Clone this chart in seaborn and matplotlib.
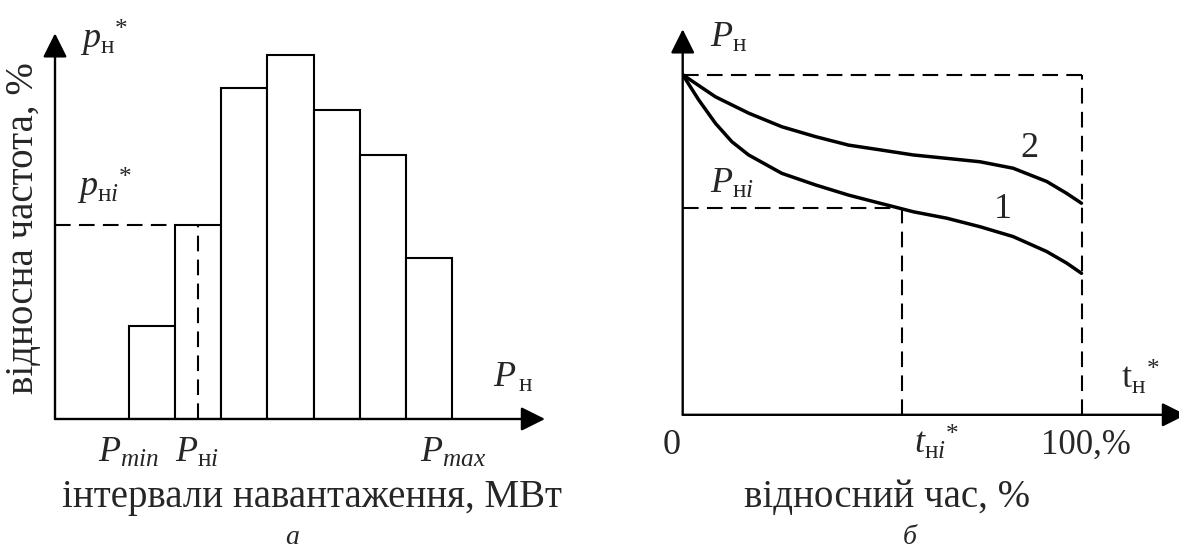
import numpy as np
import pandas as pd
import matplotlib
matplotlib.use("Agg")
import matplotlib.pyplot as plt
import seaborn as sns

# --- data ---
# (a) relative frequency of load intervals, %
intervals = ["1", "2", "3", "4", "5", "6", "7"]
freq = [5.4, 11.3, 19.3, 21.2, 18.0, 15.4, 9.4]
i_hi = 1  # interval marked as P_нi

# (б) load duration curves, relative time % vs relative load %
t_curve1 = [0, 4.0, 8.2, 12.3, 16.5, 24.8, 33.2, 41.5, 49.4, 51.1, 57.7, 66.1, 74.4, 82.7, 91.1, 96.1, 99.8]
p_curve1 = [100, 92.6, 85.7, 80.3, 76.4, 71.0, 67.6, 64.6, 62.2, 61.7, 59.7, 57.8, 55.3, 52.4, 48.0, 44.6, 41.6]
t_curve2 = [0, 8.2, 16.5, 24.8, 33.2, 41.5, 49.4, 57.7, 66.1, 74.4, 82.7, 91.1, 96.1, 99.8]
p_curve2 = [100, 93.5, 88.7, 84.7, 81.8, 79.3, 77.9, 76.4, 75.4, 74.4, 72.5, 68.6, 65.1, 62.2]
t_hi = 55.0
p_hi = 60.7

W, H = 1179, 548
sns.set_style("white")
plt.rcParams["font.family"] = ["Liberation Serif", "DejaVu Serif"]
plt.rcParams["mathtext.fontset"] = "custom"
plt.rcParams["mathtext.rm"] = "Liberation Serif"
plt.rcParams["mathtext.it"] = "Liberation Serif:italic"

fig = plt.figure(figsize=(W / 100, H / 100), dpi=100)
fig.patch.set_facecolor("white")


def box(x0, y0, x1, y1):
    # pixel box (left, top, right, bottom) -> figure fraction rect
    return [x0 / W, 1 - y1 / H, (x1 - x0) / W, (y1 - y0) / H]


def label(x, y, s, size=26, **kw):
    fig.text(x / W, 1 - y / H, s, fontsize=size, va="baseline", **kw)


dash = (0, (7.5, 4))
AX_LW = 1.7


def arrows(ax):
    for sp in ax.spines.values():
        sp.set_visible(False)
    ax.set_xticks([])
    ax.set_yticks([])
    ax.set_xlabel("")
    ax.set_ylabel("")
    ap = dict(arrowstyle="-|>,head_length=0.7,head_width=0.35", mutation_scale=21,
              lw=AX_LW, color="black", shrinkA=0, shrinkB=0)
    ax.annotate("", xy=(0, 1), xytext=(0, 0), xycoords="axes fraction", arrowprops=ap,
                annotation_clip=False)
    ax.annotate("", xy=(1, 0), xytext=(0, 0), xycoords="axes fraction", arrowprops=ap,
                annotation_clip=False)


# ---------- panel (a) ----------
ax1 = fig.add_axes(box(55, 33.3, 545, 419))
df_a = pd.DataFrame({"interval": intervals, "freq": freq})
sns.barplot(data=df_a, x="interval", y="freq", width=1, color="white",
            edgecolor="black", linewidth=1.5, saturation=1, ax=ax1)
ax1.set_xlim(-2.103, 8.514)
ax1.set_ylim(0, 22.49)
ax1.hlines(freq[i_hi], -2.103, i_hi - 0.5, colors="black", linestyles=dash, lw=1.5)
ax1.vlines(i_hi, 0, freq[i_hi], colors="black", linestyles=dash, lw=1.5)
arrows(ax1)

label(80, 49, r"$p_{\mathrm{н}}{}^{*}$")
label(77, 196.7, r"$p_{\mathrm{н}i}{}^{*}$")
label(493, 387.3, r"$P_{\,\mathrm{н}}$")
label(98, 462.3, r"$P_{min}$")
label(175, 462.3, r"$P_{\mathrm{н}i}$")
label(420, 462.3, r"$P_{max}$")
label(312, 507.3, "інтервали навантаження, МВт", 28, ha="center")
label(292, 544, "а", 20, ha="center", style="italic")
fig.text(24 / W, 1 - 228 / H, "відносна частота, %", fontsize=28, rotation=90,
         ha="center", va="center")

# ---------- panel (б) ----------
ax2 = fig.add_axes(box(682.7, 29.3, 1186, 414.8))
df_b = pd.concat([
    pd.DataFrame({"t": t_curve1, "p": p_curve1, "curve": "1"}),
    pd.DataFrame({"t": t_curve2, "p": p_curve2, "curve": "2"}),
])
sns.lineplot(data=df_b, x="t", y="p", units="curve", estimator=None, sort=False,
             color="black", lw=2.5, ax=ax2)
ax2.set_xlim(0, 125.95)
ax2.set_ylim(0, 113.35)
ax2.hlines(100, 0, 100, colors="black", linestyles=dash, lw=1.5)
ax2.vlines(100, 0, 100, colors="black", linestyles=dash, lw=1.5)
ax2.hlines(p_hi, 0, 53.0, colors="black", linestyles=dash, lw=1.5)
ax2.vlines(t_hi, 0, p_hi - 0.5, colors="black", linestyles=dash, lw=1.5)
arrows(ax2)

label(710, 46.7, r"$P_{\mathrm{н}}$")
label(710, 193.3, r"$P_{\mathrm{н}i}$")
label(1020.7, 156.7, "2")
label(994, 218.3, "1")
label(1120.7, 389, r"$\mathrm{t}_{\mathrm{н}}{}^{*}$")
label(663, 454, "0")
label(914, 454, r"$t_{\mathrm{н}i}{}^{*}$")
label(1040.7, 454, "100,%", 25)
label(887, 507.3, "відносний час, %", 28, ha="center")
label(910, 544, "б", 20, ha="center", style="italic")

fig.savefig("out.png", dpi=100, facecolor="white")
